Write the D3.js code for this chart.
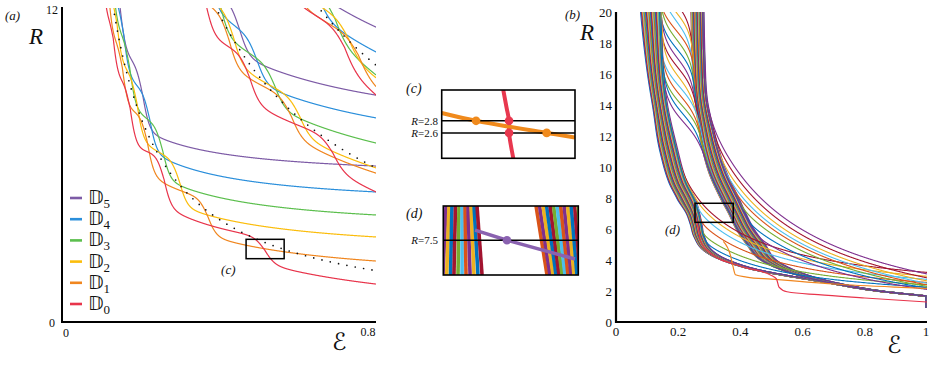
<!DOCTYPE html>
<html lang="en">
<head>
<meta charset="UTF-8">
<title>R vs epsilon</title>
<script src="https://d3js.org/d3.v7.min.js"></script>
<style>
  html, body { margin: 0; padding: 0; background: #fff; }
  text { font-family: "Liberation Serif", "DejaVu Serif", serif; fill: #111; }
  .it { font-style: italic; }
</style>
</head>
<body>
<svg id="fig" width="935" height="383"></svg>
<script>
// ---------------- data, panel (a) ----------------
// dotted lines eps*R = K, one per group of curves
const groupK = [1.571, 4.712, 7.854];
const groupAmp = [0.52, 0.85, 1.0];      // size of the wiggles (in eps*R)
const groupInc = [1.91, 0.64, 0.38];     // spacing of the steps in 1/eps
const dNames = ["5", "4", "3", "2", "1", "0"];
const dColors = ["#7d5ba6", "#2b8fdb", "#5cbf4e", "#fbbd0c", "#f0861f", "#e8344b"];
const colorMid = [0.4, 0.3, 0.2, 0.05, -0.15, -0.3];
// eps of the last step and R read at eps = 0.8, colours D5..D0
const lastStep = [
  [0.206, 0.224, 0.257, 0.300, 0.372, 0.517],
  [0.453, 0.497, 0.543, 0.606, 0.585, 0.690],
  [0.580, 0.652, 0.696, 0.730, 0.755, 0.720]
];
const rightR = [
  [5.96, 4.97, 4.09, 3.25, 2.33, 1.45],
  [8.67, 7.80, 6.84, 5.89, 5.69, 4.97],
  [11.27, 10.32, 9.44, 9.32, 8.60, 8.52]
];
const boxC = { e: [0.469, 0.566], R: [2.42, 3.16] };

// inset (c)
const cOrange = [[0.469, 2.93], [0.494, 2.80], [0.5454, 2.60], [0.566, 2.525]];
const cRed = [[0.5138, 3.31], [0.5162, 3.02], [0.518, 2.80], [0.518, 2.60], [0.5193, 2.40], [0.5211, 2.18]];
const cDots = [[0.494, 2.8, 1], [0.5454, 2.6, 1], [0.518, 2.8, 0], [0.518, 2.6, 0]];
const cLevels = [2.8, 2.6];

// inset (d)
const dLeftTop = [0.2565, 0.2592, 0.2619, 0.2651, 0.2683, 0.2711, 0.2738, 0.2765, 0.2792, 0.2820, 0.2847];
const dLeftBot = [0.2537, 0.2571, 0.2606, 0.2637, 0.2674, 0.2711, 0.2747, 0.2784, 0.2820, 0.2856, 0.2893];
const dRightTop = [0.3385, 0.3417, 0.3449, 0.3481, 0.3513, 0.3545, 0.3577, 0.3609, 0.3641, 0.3673, 0.3705, 0.3737, 0.3769];
const dRightBot = [0.3485, 0.3512, 0.3540, 0.3567, 0.3594, 0.3622, 0.3649, 0.3676, 0.3704, 0.3731, 0.3758, 0.3786, 0.3813];
const dPurple = [[0.2829, 7.68], [0.312, 7.5], [0.374, 7.165]];
const dLevel = 7.5;

// ---------------- data, panel (b) ----------------
const matlab = ["#0072BD", "#D95319", "#EDB120", "#7E2F8E", "#77AC30", "#4DBEEE", "#A2142F"];
// centre lines of the two bands [R, eps] and their half widths [R, d eps]
const leftKnots = [[1.65, 1.0], [2.0, 0.84], [2.58, 0.67], [3.35, 0.455], [4, 0.35], [4.6, 0.297], [5.5, 0.268], [6.3, 0.258],
  [7, 0.248], [8, 0.225], [9, 0.2], [11.1, 0.17], [14, 0.142], [16, 0.128], [20, 0.113], [21.5, 0.109]];
const leftHalf = [[1.65, 0.004], [2, 0.006], [3.5, 0.01], [5, 0.016], [7, 0.022], [8, 0.03], [11, 0.03], [14, 0.025], [20, 0.034], [21.5, 0.035]];
const rightKnots = [[1.68, 1.0], [2.0, 0.85], [2.4, 0.73], [2.8, 0.64], [3.3, 0.56], [4, 0.49], [5, 0.45], [6, 0.415],
  [7, 0.39], [8, 0.365], [9.5, 0.33], [11.1, 0.305], [12.5, 0.29], [14.5, 0.273], [17, 0.266], [20, 0.262], [21.5, 0.261]];
const rightHalf = [[1.68, 0.004], [2.5, 0.012], [3.5, 0.022], [5, 0.03], [7, 0.028], [8, 0.03], [11, 0.027], [14.5, 0.02], [20, 0.021], [21.5, 0.021]];
// position of each curve across its band (-1 .. 1)
const bLeftT = [-1.0, -0.93, -0.86, -0.8, -0.73, -0.66, -0.6, -0.53, -0.46, -0.4, -0.33, -0.26, -0.2, -0.13, -0.06,
  0.0, 0.06, 0.13, 0.2, 0.26, 0.33, 0.4, 0.46, 0.53, 0.6, 0.66, 0.73, 0.8, 0.88, 0.96];
const bRightT = [-1.0, -0.92, -0.85, -0.77, -0.7, -0.62, -0.55, -0.47, -0.4, -0.32, -0.25, -0.17, -0.1, -0.02,
  0.05, 0.12, 0.2, 0.27, 0.35, 0.42, 0.5, 0.57, 0.65, 0.72, 0.8, 0.87, 0.94, 1.0];
// [R where the curve jumps from the left band to the right band, t]
const bCross = [[20.6, 0.9], [20.0, 0.8], [19.4, 0.95], [18.8, 0.7], [18.2, 0.85], [17.6, 0.75], [17.0, 0.9],
  [16.4, 0.8], [15.8, 0.95], [15.2, 0.7], [14.6, 0.85], [14.0, 0.75], [13.4, 0.9], [12.8, 0.8]];
// [R where the curve leaves its band, R reached at eps = 1]
const bLeftFan = [[9.2, 3.2], [8.1, 2.95], [7.2, 2.75], [6.4, 2.55], [5.6, 2.4], [5.0, 2.25]];
const bRightFan = [[12.8, 3.1], [11.6, 2.85], [10.4, 2.65], [9.3, 2.5], [8.3, 2.4], [7.3, 2.3], [6.3, 2.2], [5.4, 2.1]];
// the two lowest curves, read point by point
const bRed = [[0.255, 6.8], [0.265, 6.0], [0.272, 5.2], [0.3, 4.5], [0.4, 3.6], [0.5, 3.0], [0.516, 2.78], [0.524, 2.25],
  [0.55, 1.95], [0.65, 1.76], [0.8, 1.55], [1.0, 1.29]];
const bOrange = [[0.345, 5.2], [0.368, 4.3], [0.376, 3.6], [0.384, 3.05], [0.42, 2.9], [0.5, 2.76], [0.7, 2.45], [0.9, 2.25], [1.0, 2.17]];
const boxD = { e: [0.254, 0.377], R: [6.43, 7.66] };

// ---------------- helpers ----------------
const svg = d3.select("#fig");
const defs = svg.append("defs");
function smax(vals, k) {
  const m = Math.max(...vals);
  let s = 0;
  vals.forEach(v => s += Math.exp((v - m) / k));
  return m + k * Math.log(s);
}
function addClip(id, x, y, w, h) {
  defs.append("clipPath").attr("id", id).append("rect").attr("x", x).attr("y", y).attr("width", w).attr("height", h);
}
// monotone cubic through knots [x, y] (x ascending)
function monoInterp(knots) {
  const xs = knots.map(k => k[0]), ys = knots.map(k => k[1]), n = xs.length;
  const dl = [], m = new Array(n);
  for (let i = 0; i < n - 1; i++) dl.push((ys[i + 1] - ys[i]) / (xs[i + 1] - xs[i]));
  m[0] = dl[0]; m[n - 1] = dl[n - 2];
  for (let i = 1; i < n - 1; i++) m[i] = dl[i - 1] * dl[i] <= 0 ? 0 : (dl[i - 1] + dl[i]) / 2;
  for (let i = 0; i < n - 1; i++) {
    if (dl[i] === 0) { m[i] = m[i + 1] = 0; continue; }
    const a = m[i] / dl[i], b = m[i + 1] / dl[i], s = a * a + b * b;
    if (s > 9) { const t = 3 / Math.sqrt(s); m[i] = t * a * dl[i]; m[i + 1] = t * b * dl[i]; }
  }
  return x => {
    x = Math.max(xs[0], Math.min(xs[n - 1], x));
    let i = 0;
    while (i < n - 2 && x > xs[i + 1]) i++;
    const h = xs[i + 1] - xs[i], t = (x - xs[i]) / h;
    const t2 = t * t, t3 = t2 * t;
    return (2 * t3 - 3 * t2 + 1) * ys[i] + (t3 - 2 * t2 + t) * h * m[i] + (-2 * t3 + 3 * t2) * ys[i + 1] + (t3 - t2) * h * m[i + 1];
  };
}

// ---------------- panel (a) ----------------
const ax = d3.scaleLinear().domain([0, 0.8]).range([62, 376]);
const ay = d3.scaleLinear().domain([0, 12]).range([322, 8]);
addClip("clipA", 62, 8, 314, 314);
const lineA = d3.line().x(d => ax(d[0])).y(d => ay(d[1]));

function stairPoints(g, n) {
  const K = groupK[g], amp = groupAmp[g], inc = groupInc[g], e1 = lastStep[g][n];
  const uBot = K + (colorMid[n] - 0.5) * amp;
  const A = Math.max(-1.5, (0.8 * rightR[g][n] - uBot) / (0.8 - e1));
  const steps = [];
  for (let k = 0; k < 80; k++) {
    const e = 1 / (1 / e1 + k * inc);
    if (e < 0.045) break;
    steps.push(e);
  }
  const tau = steps.map((e, j) => Math.min(0.006 + 0.014 * e, (j + 1 < steps.length ? e - steps[j + 1] : 0.2 * e) / 3.5));
  const pts = [];
  for (let e = steps[steps.length - 1] + 0.0002; e <= 0.8005; e += 0.0004) {
    let phi;
    if (e >= e1) phi = A * (e - e1) / amp;
    else {
      let j = 0;
      while (j + 1 < steps.length - 1 && steps[j + 1] > e) j++;
      phi = (e - steps[j + 1]) / (steps[j] - steps[j + 1]) - (j + 1);
    }
    let N = 0;
    steps.forEach((s, j) => { N += 1 / (1 + Math.exp((e - s) / tau[j])); });
    const R = (uBot + amp * (phi + N)) / e;
    if (R < 13.5) pts.push([e, R]);
  }
  return pts;
}

const gA = svg.append("g").attr("clip-path", "url(#clipA)");
groupK.forEach((K, g) => {
  dNames.forEach((nm, n) => {
    gA.append("path").attr("d", lineA(stairPoints(g, n)))
      .attr("fill", "none").attr("stroke", dColors[n]).attr("stroke-width", 1.2);
  });
});
groupK.forEach(K => {
  const pts = d3.range(K / 12.4, 0.8001, 0.002).map(e => [e, K / e]);
  gA.append("path").attr("d", lineA(pts)).attr("fill", "none")
    .attr("stroke", "#111").attr("stroke-width", 1.7)
    .attr("stroke-linecap", "round").attr("stroke-dasharray", "0 8.5");
});

// axes (a)
svg.append("path").attr("d", `M${ax(0)},${ay(12) - 1}V${ay(0)}H${ax(0.8)}`)
  .attr("fill", "none").attr("stroke", "#000").attr("stroke-width", 2);
svg.append("text").attr("x", ax(0) - 4).attr("y", ay(12) + 6).attr("text-anchor", "end").attr("font-size", 12).text("12");
svg.append("text").attr("x", ax(0) - 7).attr("y", ay(0) + 5).attr("text-anchor", "end").attr("font-size", 12).text("0");
svg.append("text").attr("x", ax(0) + 4).attr("y", ay(0) + 15).attr("text-anchor", "middle").attr("font-size", 12).text("0");
svg.append("text").attr("x", ax(0.8) - 8).attr("y", ay(0) + 14).attr("text-anchor", "middle").attr("font-size", 12).text("0.8");
svg.append("text").attr("class", "it").attr("x", 5).attr("y", 20).attr("font-size", 13).text("(a)");
svg.append("text").attr("class", "it").attr("x", 29).attr("y", 44).attr("font-size", 23).text("R");
svg.append("text").attr("x", 332).attr("y", 350).attr("font-size", 24)
  .style("font-family", "'DejaVu Serif', 'DejaVu Sans', serif").text("\u2130");

// box (c)
svg.append("rect").attr("x", ax(boxC.e[0])).attr("y", ay(boxC.R[1]))
  .attr("width", ax(boxC.e[1]) - ax(boxC.e[0])).attr("height", ay(boxC.R[0]) - ay(boxC.R[1]))
  .attr("fill", "none").attr("stroke", "#000").attr("stroke-width", 1.5);
svg.append("text").attr("class", "it").attr("x", ax(boxC.e[0]) - 25).attr("y", ay(boxC.R[0]) + 15).attr("font-size", 13).text("(c)");

// legend
dNames.forEach((nm, i) => {
  const y = 198 + i * 21.2;
  svg.append("line").attr("x1", 70).attr("x2", 82).attr("y1", y).attr("y2", y)
    .attr("stroke", dColors[i]).attr("stroke-width", 2.6);
  const t = svg.append("text").attr("x", 88).attr("y", y + 6).attr("font-size", 19);
  t.append("tspan").style("font-family", "'DejaVu Sans', 'DejaVu Serif', sans-serif").text("\u{1D53B}");
  t.append("tspan").attr("font-size", 13).attr("dy", 4).text(nm);
});

// ---------------- inset (c) ----------------
const cx = d3.scaleLinear().domain([0.469, 0.566]).range([441.7, 575]);
const cy = d3.scaleLinear().domain([2.18, 3.31]).range([158.3, 90]);
addClip("clipC", 441.7, 90, 133.3, 68.3);
const lineC = d3.line().x(d => cx(d[0])).y(d => cy(d[1])).curve(d3.curveCatmullRom);
const gC = svg.append("g").attr("clip-path", "url(#clipC)");
gC.append("path").attr("d", lineC(cRed)).attr("fill", "none").attr("stroke", "#e8384f").attr("stroke-width", 4);
gC.append("path").attr("d", lineC(cOrange)).attr("fill", "none").attr("stroke", "#f08a1c").attr("stroke-width", 4);
cLevels.forEach(R => gC.append("line").attr("x1", 441.7).attr("x2", 575).attr("y1", cy(R)).attr("y2", cy(R))
  .attr("stroke", "#000").attr("stroke-width", 1.5));
cDots.forEach(d => gC.append("circle").attr("cx", cx(d[0])).attr("cy", cy(d[1])).attr("r", 4.3)
  .attr("fill", d[2] ? "#f08a1c" : "#e8384f"));
svg.append("rect").attr("x", 441.7).attr("y", 90).attr("width", 133.3).attr("height", 68.3)
  .attr("fill", "none").attr("stroke", "#000").attr("stroke-width", 1.6);
svg.append("text").attr("class", "it").attr("x", 406).attr("y", 93).attr("font-size", 14).text("(c)");
cLevels.forEach(R => {
  const t = svg.append("text").attr("x", 438).attr("y", cy(R) + 4).attr("text-anchor", "end").attr("font-size", 11);
  t.append("tspan").attr("class", "it").text("R");
  t.append("tspan").text("=" + R.toFixed(1));
});

// ---------------- inset (d) ----------------
const dx = d3.scaleLinear().domain([0.254, 0.377]).range([443.3, 578.3]);
const dy = d3.scaleLinear().domain([6.88, 8.11]).range([275, 206]);
addClip("clipD", 443.3, 206, 135, 69);
const gD = svg.append("g").attr("clip-path", "url(#clipD)");
const stripeCols = ["#7E2F8E", "#EDB120", "#0072BD", "#A2142F", "#77AC30", "#4DBEEE", "#D95319"];
dLeftTop.forEach((e, i) => gD.append("line").attr("x1", dx(e)).attr("y1", dy(8.11)).attr("x2", dx(dLeftBot[i])).attr("y2", dy(6.88))
  .attr("stroke", stripeCols[i % 7]).attr("stroke-width", 3.6));
dRightTop.forEach((e, i) => gD.append("line").attr("x1", dx(e)).attr("y1", dy(8.11)).attr("x2", dx(dRightBot[i])).attr("y2", dy(6.88))
  .attr("stroke", stripeCols[(i + 6) % 7]).attr("stroke-width", 3.6));
gD.append("path").attr("d", d3.line().x(d => dx(d[0])).y(d => dy(d[1]))(dPurple))
  .attr("fill", "none").attr("stroke", "#8a62b0").attr("stroke-width", 3.5);
gD.append("line").attr("x1", 443.3).attr("x2", 578.3).attr("y1", dy(dLevel)).attr("y2", dy(dLevel))
  .attr("stroke", "#000").attr("stroke-width", 1.5);
gD.append("circle").attr("cx", dx(dPurple[1][0])).attr("cy", dy(dPurple[1][1])).attr("r", 4.3).attr("fill", "#8a62b0");
svg.append("rect").attr("x", 443.3).attr("y", 206).attr("width", 135).attr("height", 69)
  .attr("fill", "none").attr("stroke", "#000").attr("stroke-width", 1.6);
svg.append("text").attr("class", "it").attr("x", 406).attr("y", 218).attr("font-size", 14).text("(d)");
{
  const t = svg.append("text").attr("x", 438).attr("y", dy(dLevel) + 4).attr("text-anchor", "end").attr("font-size", 11);
  t.append("tspan").attr("class", "it").text("R");
  t.append("tspan").text("=" + dLevel.toFixed(1));
}

// ---------------- panel (b) ----------------
const bx = d3.scaleLinear().domain([0, 1]).range([616, 927]);
const by = d3.scaleLinear().domain([0, 20]).range([322, 12]);
addClip("clipB", 616, 12, 311, 310);
const lineB = d3.line().x(d => bx(d[0])).y(d => by(d[1]));

const leftC = monoInterp(leftKnots), leftW = monoInterp(leftHalf);
const rightC = monoInterp(rightKnots), rightW = monoInterp(rightHalf);
const leftEps = (R, t) => leftC(R) + t * leftW(R);
const rightEps = (R, t) => rightC(R) + t * rightW(R);
function tailFn(band, Rl, Rend) {
  const el = band(Rl);
  const q = (Rl - Rend) / (1 / el - 1), r = Rend - q;
  return R => smax([band(R), R > r ? q / (R - r) : 5], 0.008);
}
function sampleB(f) {
  const pts = [];
  for (let R = 21.5; R >= 0.9; R -= 0.01) {
    const e = f(R);
    if (e > 1.02) break;
    pts.push([e, R]);
  }
  return pts;
}

const bCurves = [];
bLeftT.forEach(t => bCurves.push(R => leftEps(R, t)));
bRightT.forEach(t => bCurves.push(R => rightEps(R, t)));
bCross.forEach(([Rj, t]) => bCurves.push(R => {
  const l = leftEps(R, t), r = rightEps(R, -t);
  return l + (r - l) / (1 + Math.exp((R - Rj) / 0.7));
}));
bLeftFan.forEach(([Rl, Re]) => bCurves.push(tailFn(R => leftEps(R, 0.8), Rl, Re)));
bRightFan.forEach(([Rl, Re]) => bCurves.push(tailFn(R => rightEps(R, 0.8), Rl, Re)));

const gB = svg.append("g").attr("clip-path", "url(#clipB)");
bCurves.forEach((f, i) => {
  gB.append("path").attr("d", lineB(sampleB(f))).attr("fill", "none")
    .attr("stroke", matlab[(i * 3) % 7]).attr("stroke-width", 1.1);
});
[[bOrange, dColors[4]], [bRed, dColors[5]]].forEach(([pts, col]) => {
  gB.append("path").attr("d", lineB.curve(d3.curveMonotoneX)(pts)).attr("fill", "none")
    .attr("stroke", col).attr("stroke-width", 1.2);
});

// axes (b)
svg.append("path").attr("d", `M${bx(0)},${by(20)}V${by(0)}H${bx(1)}`)
  .attr("fill", "none").attr("stroke", "#000").attr("stroke-width", 2.2);
d3.range(0, 21, 2).forEach(v => svg.append("text").attr("x", 612).attr("y", by(v) + 4.5)
  .attr("text-anchor", "end").attr("font-size", 13).text(v));
[0, 0.2, 0.4, 0.6, 0.8, 1].forEach(v => svg.append("text").attr("x", bx(v) + (v === 1 ? -1 : 0)).attr("y", 336)
  .attr("text-anchor", "middle").attr("font-size", 13).text(v));
svg.append("text").attr("class", "it").attr("x", 565).attr("y", 19).attr("font-size", 13).text("(b)");
svg.append("text").attr("class", "it").attr("x", 580).attr("y", 40).attr("font-size", 23).text("R");
svg.append("text").attr("x", 887).attr("y", 353).attr("font-size", 24)
  .style("font-family", "'DejaVu Serif', 'DejaVu Sans', serif").text("\u2130");

// box (d)
svg.append("rect").attr("x", bx(boxD.e[0])).attr("y", by(boxD.R[1]))
  .attr("width", bx(boxD.e[1]) - bx(boxD.e[0])).attr("height", by(boxD.R[0]) - by(boxD.R[1]))
  .attr("fill", "none").attr("stroke", "#000").attr("stroke-width", 1.5);
svg.append("text").attr("class", "it").attr("x", bx(boxD.e[0]) - 30).attr("y", by(boxD.R[0]) + 12).attr("font-size", 13).text("(d)");
</script>
</body>
</html>
